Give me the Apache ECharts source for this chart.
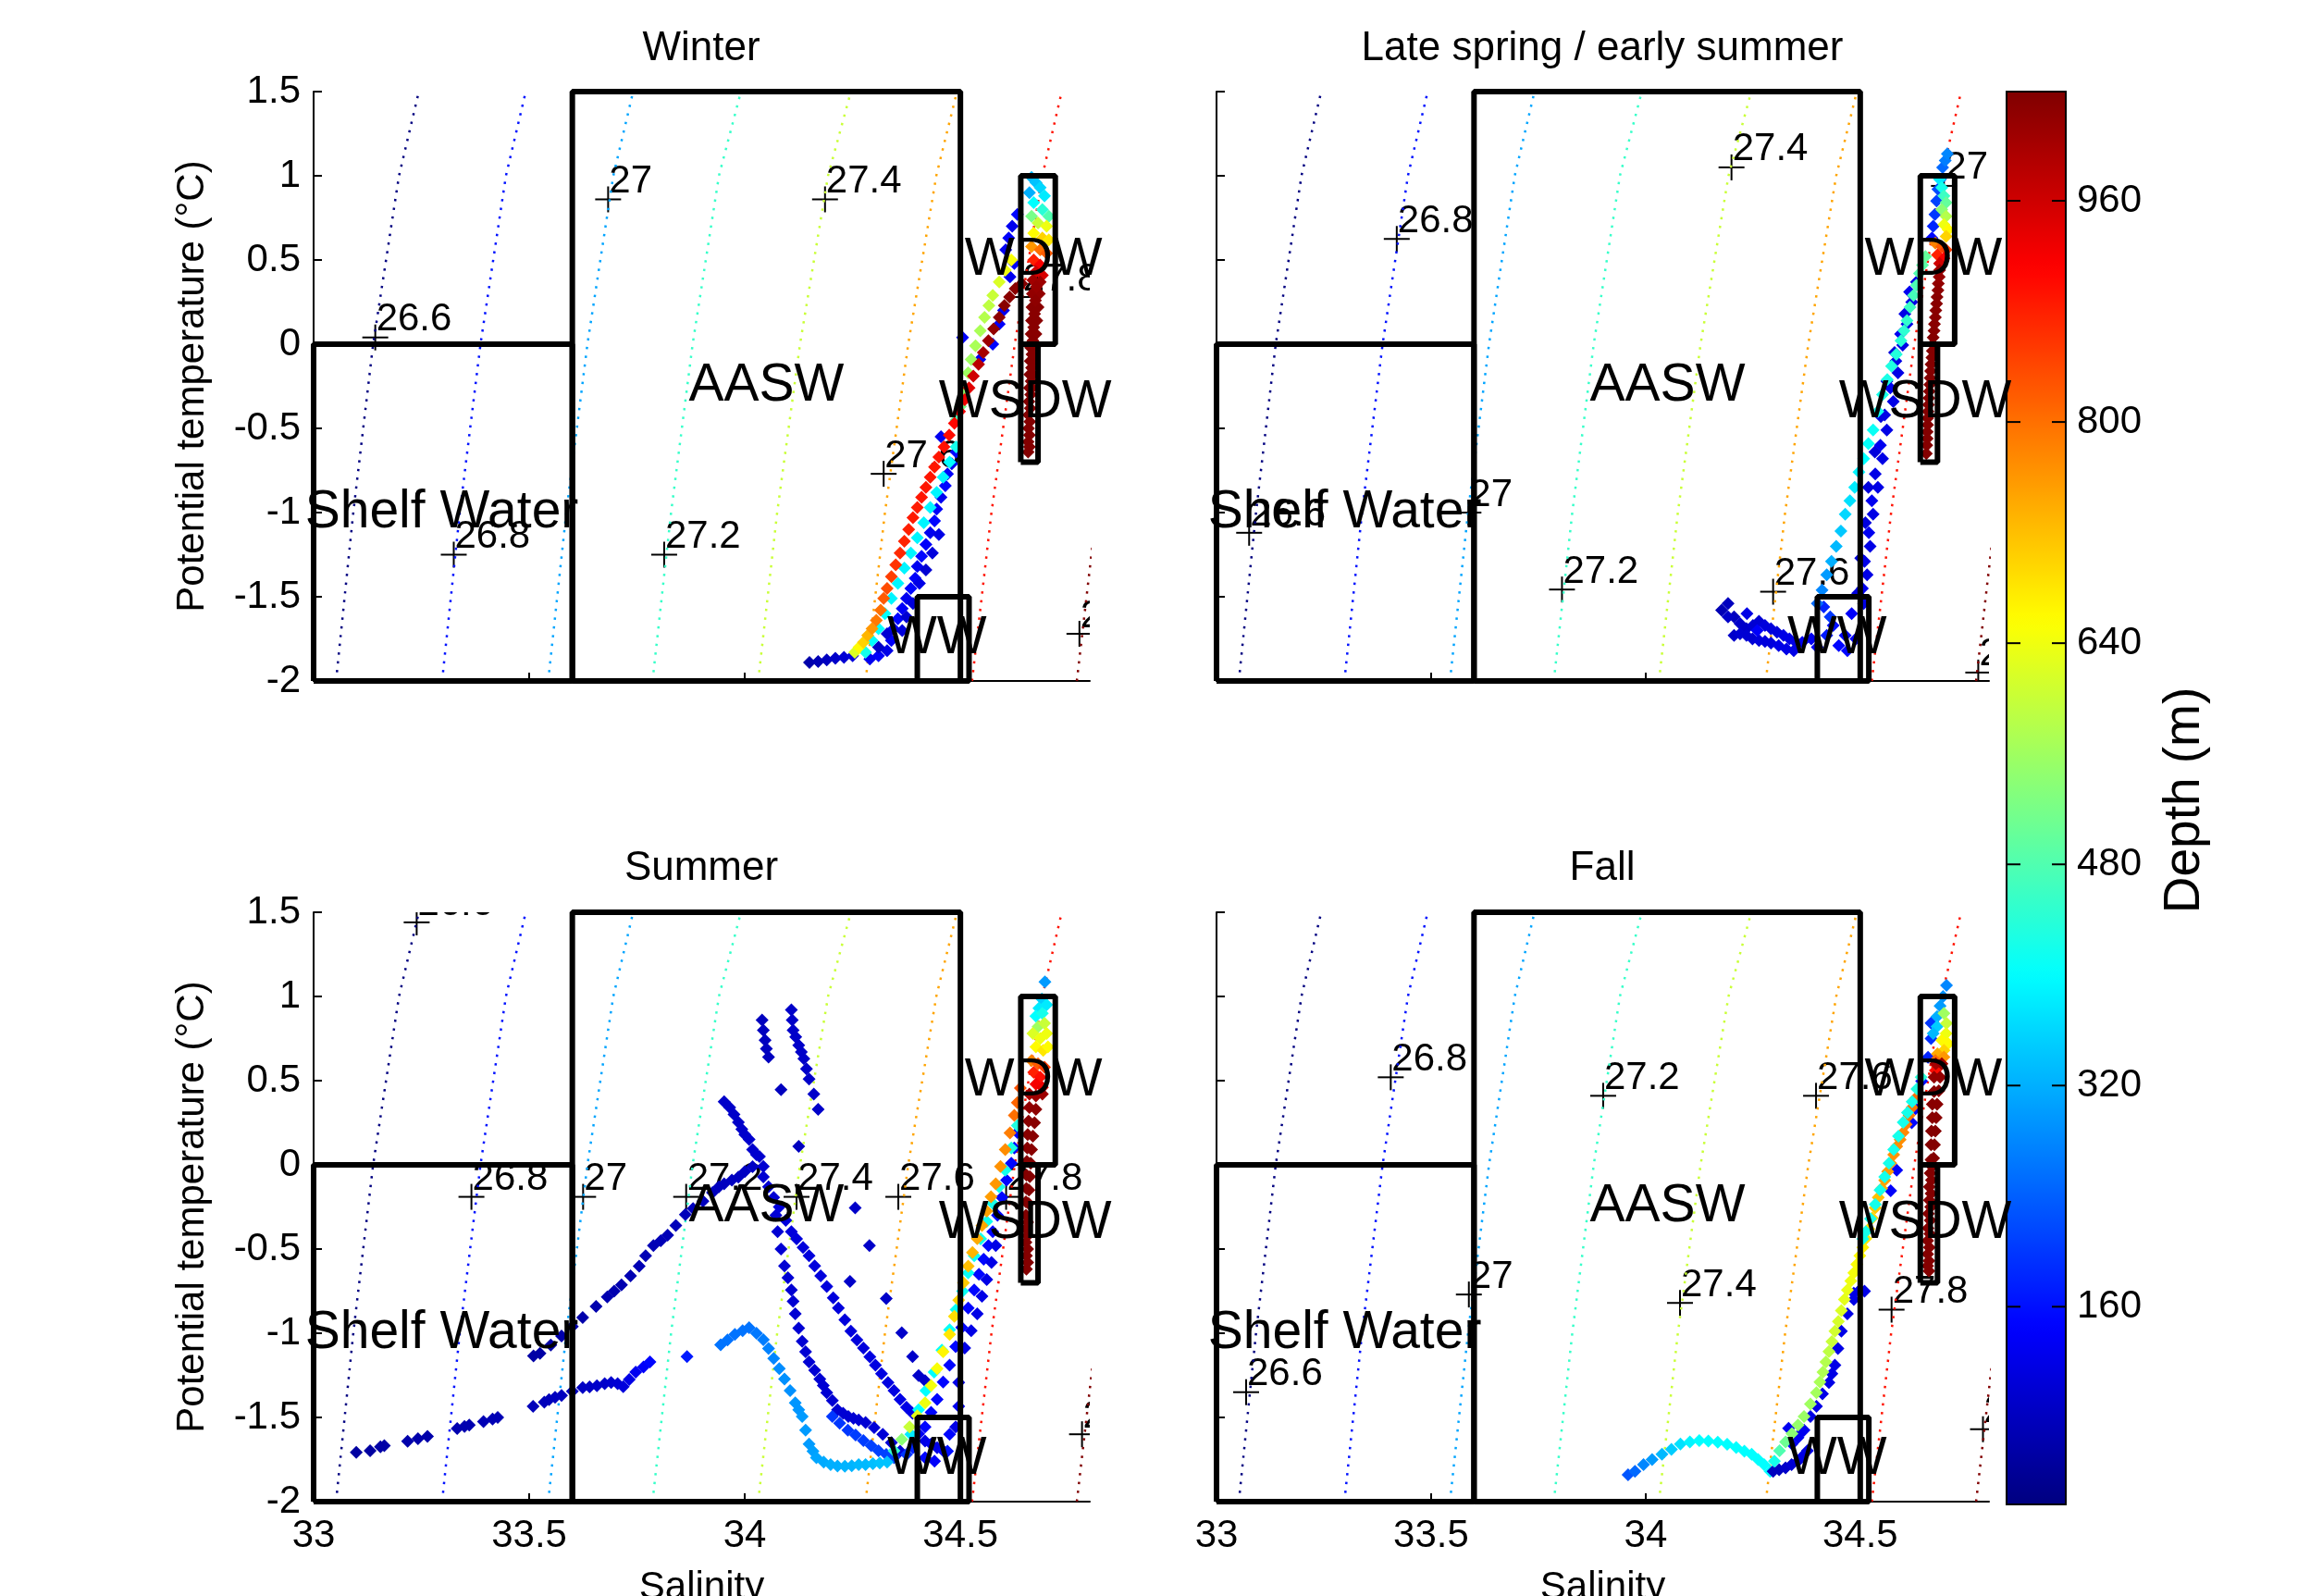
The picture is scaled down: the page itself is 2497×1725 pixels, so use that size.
<!DOCTYPE html>
<html>
<head>
<meta charset="utf-8">
<script src="https://cdn.jsdelivr.net/npm/echarts@6.0.0/dist/echarts.min.js"></script>
<style>
  html, body { margin: 0; padding: 0; background: #fff; }
  #chart { width: 2497px; height: 1725px; }
</style>
</head>
<body>
<div id="chart"></div>
<script>
// ---- data ----
const seasonTitles = ['Winter', 'Late spring / early summer', 'Summer', 'Fall'];
const salTicks = [33, 33.5, 34, 34.5];
const depthTicks = [160, 320, 480, 640, 800, 960];
const depthMin = 17;
const depthMax = 1039;

// isopycnals: salinity where each sigma-theta level crosses isoTheta
const sigmaText = ['26.6', '26.8', '27', '27.2', '27.4', '27.6', '27.8', '28'];
const isoTheta = [-2, -1, 0, 1, 1.5];
const isoSalinity = [
  [33.052, 33.092, 33.138, 33.198, 33.244],
  [33.298, 33.339, 33.387, 33.446, 33.492],
  [33.544, 33.586, 33.635, 33.695, 33.741],
  [33.786, 33.829, 33.879, 33.940, 33.991],
  [34.031, 34.075, 34.128, 34.193, 34.246],
  [34.280, 34.325, 34.379, 34.444, 34.492],
  [34.527, 34.572, 34.626, 34.690, 34.735],
  [34.770, 34.815, 34.870, 34.938, 34.985]
];

// clabel "+" positions, one per sigma level
const winterLabelPts = [[33.143,0.04],[33.325,-1.25],[33.683,0.86],[33.813,-1.25],[34.186,0.86],[34.322,-0.77],[34.643,0.28],[34.776,-1.72]];
const springLabelPts = [[33.076,-1.12],[33.42,0.625],[33.587,-1.0],[33.805,-1.457],[34.2,1.05],[34.297,-1.47],[34.695,0.94],[34.775,-1.95]];
const summerLabelPts = [[33.239,1.44],[33.366,-0.19],[33.625,-0.19],[33.864,-0.19],[34.12,-0.19],[34.356,-0.19],[34.606,-0.19],[34.782,-1.6]];
const fallLabelPts = [[33.069,-1.35],[33.406,0.52],[33.588,-0.77],[33.901,0.41],[34.08,-0.82],[34.397,0.41],[34.573,-0.86],[34.786,-1.57]];

// water mass boxes and names
const boxShelf = [[33,-2],[33,0],[33.6,0],[33.6,-2],[33,-2]];
const boxAASW = [[33.6,-2],[33.6,1.5],[34.5,1.5],[34.5,-2],[33.6,-2]];
const boxWDW = [[34.64,0],[34.64,1],[34.72,1],[34.72,0],[34.64,0]];
const boxWSDW = [[34.64,-0.7],[34.64,0],[34.68,0],[34.68,-0.7],[34.64,-0.7]];
const boxWW = [[34.4,-2],[34.4,-1.5],[34.52,-1.5],[34.52,-2],[34.4,-2]];
const massNames = ['AASW', 'WDW', 'WSDW', 'Shelf Water', 'WW'];
const massPos = [[33.87,-0.25],[34.51,0.5],[34.45,-0.35],[32.98,-1.0],[34.33,-1.75]];

// [salinity, potential temperature, depth]
const winterPts = [
  [34.15,-1.89,60],[34.17,-1.885,70],[34.19,-1.875,80],[34.21,-1.865,90],[34.23,-1.86,100],[34.25,-1.85,110],
  [34.29,-1.87,130],[34.31,-1.85,140],[34.33,-1.82,120],[34.34,-1.76,140],[34.345,-1.69,130],[34.355,-1.63,150],
  [34.365,-1.57,140],[34.375,-1.51,130],[34.385,-1.45,150],[34.395,-1.39,140],[34.40,-1.32,130],[34.41,-1.26,150],
  [34.42,-1.19,140],[34.43,-1.12,130],[34.44,-1.05,150],[34.445,-0.98,140],[34.455,-0.91,130],[34.465,-0.84,150],
  [34.47,-0.77,140],[34.48,-0.71,130],[34.49,-0.64,150],
  [34.365,-1.70,110],[34.375,-1.62,100],[34.39,-1.54,110],[34.405,-1.42,120],[34.42,-1.34,100],[34.435,-1.24,110],
  [34.45,-1.13,120],[34.31,-1.80,90],[34.33,-1.72,100],
  [34.455,-0.55,130],[34.505,0.04,140],[34.545,-0.09,130],[34.575,0.0,150],[34.59,0.12,140],[34.60,0.20,130],
  [34.605,0.56,130],[34.612,0.63,140],[34.62,0.70,130],[34.632,0.77,150],[34.625,0.48,140],[34.615,0.40,130],
  [34.28,-1.83,420],[34.295,-1.76,400],[34.31,-1.69,400],[34.325,-1.60,400],[34.34,-1.51,390],[34.355,-1.42,390],
  [34.37,-1.33,390],[34.385,-1.24,390],[34.40,-1.15,390],[34.415,-1.06,390],[34.43,-0.97,390],[34.445,-0.88,390],
  [34.46,-0.79,390],[34.475,-0.70,400],[34.49,-0.61,420],
  [34.49,-0.45,480],[34.50,-0.37,520],[34.51,-0.27,550],[34.518,-0.17,560],[34.525,-0.09,560],[34.535,-0.01,570],
  [34.546,0.08,570],[34.556,0.16,580],[34.566,0.23,590],[34.575,0.29,600],[34.59,0.37,620],[34.604,0.44,640],[34.618,0.50,650],
  [34.255,-1.83,620],[34.265,-1.80,660],[34.275,-1.77,700],[34.285,-1.73,730],[34.295,-1.69,760],[34.305,-1.64,790],
  [34.315,-1.58,800],[34.322,-1.51,820],[34.33,-1.45,835],[34.34,-1.38,850],[34.35,-1.31,860],[34.36,-1.24,870],
  [34.37,-1.17,875],[34.38,-1.10,880],[34.39,-1.03,885],[34.40,-0.97,885],[34.41,-0.91,890],[34.42,-0.85,890],
  [34.43,-0.79,890],[34.44,-0.73,890],[34.45,-0.67,890],[34.462,-0.61,895],[34.474,-0.54,900],[34.486,-0.47,905],
  [34.498,-0.40,915],[34.51,-0.33,925],[34.52,-0.26,940],[34.53,-0.19,960],[34.542,-0.12,980],[34.553,-0.05,1000],
  [34.565,0.02,1010],[34.577,0.09,1020],[34.59,0.16,1025],[34.602,0.23,1030],[34.614,0.28,1030],[34.627,0.33,1030],[34.642,0.36,1035],
  [34.665,0.99,330],[34.675,0.96,340],[34.685,0.93,360],[34.66,0.90,320],[34.695,0.88,380],[34.67,0.84,400],[34.69,0.80,440],[34.705,0.76,480],
  [34.665,0.76,520],[34.68,0.72,600],[34.70,0.70,640],[34.67,0.66,660],[34.69,0.63,700],[34.705,0.62,680],
  [34.665,0.58,760],[34.685,0.56,800],[34.70,0.54,820],[34.67,0.50,880],[34.685,0.47,920],[34.675,0.43,960],[34.69,0.41,950],
  [34.668,0.38,1005],[34.685,0.37,1010],[34.667,0.30,1020],[34.683,0.30,1020],[34.666,0.22,1030],[34.68,0.22,1030],
  [34.665,0.14,1030],[34.677,0.14,1030],[34.664,0.06,1030],[34.675,0.06,1030],[34.663,-0.02,1035],[34.672,-0.02,1035],
  [34.662,-0.10,1035],[34.67,-0.10,1035],[34.661,-0.18,1035],[34.668,-0.18,1035],[34.66,-0.26,1035],[34.666,-0.26,1035],
  [34.659,-0.34,1035],[34.658,-0.42,1035],[34.658,-0.50,1035],[34.657,-0.58,1035],[34.657,-0.64,1035],
  [34.676,0.34,1015],[34.674,0.26,1025],[34.672,0.18,1030],[34.67,0.10,1030],[34.668,0.02,1032],[34.666,-0.06,1035],
  [34.665,-0.14,1035],[34.664,-0.22,1035],[34.663,-0.30,1035],[34.662,-0.38,1035],[34.661,-0.46,1035],[34.66,-0.54,1035],[34.66,-0.61,1035]
];

const springPts = [
  [34.177,-1.58,70],[34.192,-1.54,80],[34.206,-1.62,80],[34.22,-1.66,90],[34.235,-1.69,90],[34.25,-1.67,100],
  [34.264,-1.645,100],[34.278,-1.67,110],[34.292,-1.69,110],[34.306,-1.71,110],[34.321,-1.73,120],[34.335,-1.75,120],
  [34.35,-1.77,120],[34.365,-1.77,130],[34.386,-1.75,130],[34.206,-1.73,90],[34.22,-1.72,100],[34.235,-1.73,100],
  [34.249,-1.75,100],[34.264,-1.76,110],[34.278,-1.765,110],[34.292,-1.775,110],[34.31,-1.79,120],[34.328,-1.81,120],
  [34.345,-1.82,120],[34.192,-1.62,90],[34.236,-1.60,120],[34.26,-1.70,140],
  [34.415,-1.56,180],[34.437,-1.67,160],[34.465,-1.73,150],[34.48,-1.60,140],[34.45,-1.79,150],[34.422,-1.73,170],
  [34.40,-1.80,140],[34.47,-1.82,150],[34.49,-1.75,140],[34.43,-1.62,200],
  [34.508,-1.54,120],[34.516,-1.37,120],[34.523,-1.20,120],[34.53,-1.01,120],[34.541,-0.85,120],[34.552,-0.68,120],
  [34.562,-0.51,120],[34.577,-0.34,120],[34.588,-0.17,120],[34.599,-0.005,120],[34.609,0.12,120],[34.62,0.25,120],[34.631,0.37,120],
  [34.494,-1.48,110],[34.501,-1.27,110],[34.512,-1.06,110],[34.519,-0.85,110],[34.534,-0.64,110],[34.548,-0.43,110],
  [34.562,-0.22,110],[34.58,-0.05,110],
  [34.505,-1.45,130],[34.51,-1.29,120],[34.52,-1.12,130],[34.527,-0.93,130],[34.535,-0.77,120],[34.547,-0.60,130],
  [34.557,-0.42,120],[34.57,-0.26,130],[34.583,-0.10,120],[34.594,0.06,130],[34.604,0.18,120],[34.615,0.31,130],
  [34.40,-1.54,250],[34.411,-1.46,280],[34.422,-1.37,300],[34.433,-1.29,320],[34.444,-1.20,330],[34.455,-1.11,345],
  [34.465,-1.01,360],[34.476,-0.93,370],[34.487,-0.85,380],[34.497,-0.76,390],[34.508,-0.68,400],[34.519,-0.59,405],
  [34.53,-0.51,410],[34.541,-0.40,415],[34.552,-0.30,420],[34.563,-0.21,425],[34.573,-0.13,430],[34.584,-0.06,435],
  [34.595,0.02,440],[34.602,0.08,445],[34.609,0.14,450],[34.616,0.22,460],[34.624,0.29,470],[34.631,0.35,475],
  [34.638,0.42,480],[34.645,0.47,490],[34.652,0.52,500],
  [34.667,0.63,150],[34.67,0.70,180],[34.674,0.77,200],[34.678,0.85,210],[34.681,0.92,220],[34.687,0.98,240],
  [34.692,1.05,250],[34.698,1.09,270],[34.703,1.13,280],
  [34.685,0.98,380],[34.69,0.93,420],[34.695,0.88,460],[34.70,0.84,500],[34.69,0.80,540],[34.70,0.76,580],
  [34.695,0.71,640],[34.705,0.68,660],[34.70,0.64,700],
  [34.675,0.60,780],[34.69,0.58,820],[34.70,0.56,850],[34.68,0.53,880],[34.695,0.51,920],[34.685,0.48,960],
  [34.685,0.44,1010],[34.682,0.36,1020],[34.679,0.28,1030],[34.676,0.20,1030],[34.673,0.12,1030],[34.67,0.04,1035],
  [34.668,-0.04,1035],[34.665,-0.12,1035],[34.663,-0.20,1035],[34.661,-0.28,1035],[34.659,-0.36,1035],[34.657,-0.44,1035],
  [34.656,-0.52,1035],[34.655,-0.60,1035],[34.654,-0.65,1035],
  [34.684,0.40,1015],[34.681,0.32,1025],[34.678,0.24,1030],[34.675,0.16,1030],[34.672,0.08,1032],[34.669,0.0,1035],
  [34.667,-0.08,1035],[34.664,-0.16,1035],[34.662,-0.24,1035],[34.66,-0.32,1035],[34.658,-0.40,1035],[34.657,-0.48,1035],[34.656,-0.56,1035]
];

const summerPts = [
  [33.099,-1.708,50],[33.131,-1.698,50],[33.155,-1.675,55],[33.164,-1.668,55],[33.218,-1.641,60],[33.242,-1.627,60],
  [33.264,-1.613,60],[33.333,-1.566,65],[33.35,-1.553,65],[33.361,-1.546,65],[33.394,-1.525,70],[33.415,-1.51,70],
  [33.427,-1.50,70],[33.509,-1.434,75],[33.535,-1.41,75],[33.546,-1.394,75],[33.56,-1.38,80],[33.575,-1.369,80],
  [33.60,-1.345,80],[33.624,-1.323,85],[33.64,-1.318,85],[33.657,-1.312,90],[33.675,-1.30,90],[33.69,-1.292,95],
  [33.705,-1.30,100],[33.718,-1.317,110],[33.732,-1.275,120],[33.747,-1.231,130],[33.765,-1.20,140],[33.78,-1.17,150],
  [33.866,-1.139,170],
  [33.51,-1.135,55],[33.525,-1.119,55],[33.55,-1.07,55],[33.575,-1.017,58],[33.60,-0.96,60],[33.624,-0.906,60],
  [33.655,-0.84,62],[33.681,-0.784,65],[33.697,-0.75,65],[33.714,-0.713,65],[33.735,-0.66,68],[33.755,-0.601,70],
  [33.77,-0.54,70],[33.788,-0.479,70],[33.805,-0.45,72],[33.821,-0.418,72],[33.84,-0.36,75],[33.862,-0.296,75],
  [33.88,-0.26,78],[33.903,-0.215,78],[33.925,-0.165,80],[33.94,-0.13,80],[33.952,-0.113,80],[33.97,-0.09,82],
  [33.985,-0.073,82],[34.0,-0.04,84],[34.018,-0.011,85],
  [34.04,0.86,80],[34.043,0.80,80],[34.047,0.74,80],[34.05,0.69,80],[34.055,0.64,80],
  [34.108,0.92,90],[34.11,0.86,90],[34.112,0.80,90],[34.118,0.76,90],[34.125,0.71,90],[34.131,0.67,90],
  [34.137,0.63,90],[34.143,0.57,90],[34.149,0.51,90],[34.16,0.42,90],[34.17,0.33,90],
  [34.084,0.446,80],[34.125,0.11,80],[34.256,-0.255,90],[34.289,-0.479,90],[34.244,-0.692,90],[34.328,-0.794,90],
  [34.364,-0.997,90],[34.389,-1.139,90],[34.403,-1.251,90],[34.418,-1.282,90],
  [33.952,0.375,90],[33.965,0.34,90],[33.975,0.30,90],[33.985,0.253,90],[33.993,0.212,92],[34.0,0.18,92],
  [34.01,0.151,95],[34.018,0.09,95],[34.027,0.06,95],[34.034,0.05,95],[34.043,-0.01,98],[34.043,-0.072,98],
  [34.055,-0.13,100],[34.067,-0.194,100],[34.072,-0.30,100],[34.076,-0.397,100],[34.084,-0.50,100],[34.092,-0.60,100],
  [34.10,-0.67,100],[34.108,-0.743,100],[34.112,-0.81,100],[34.117,-0.885,100],[34.125,-0.97,100],[34.133,-1.048,100],
  [34.141,-1.11,100],[34.149,-1.17,100],[34.162,-1.22,100],[34.174,-1.272,100],[34.182,-1.31,100],[34.19,-1.353,100],
  [34.203,-1.40,100],[34.215,-1.455,100],[34.228,-1.475,100],[34.24,-1.495,100],[34.252,-1.505,100],[34.264,-1.515,100],
  [34.28,-1.53,100],[34.30,-1.56,105],[34.32,-1.60,105],[34.34,-1.65,105],[34.36,-1.70,105],
  [34.08,-0.25,110],[34.095,-0.33,110],[34.108,-0.397,110],[34.12,-0.44,110],[34.135,-0.49,110],[34.149,-0.54,110],
  [34.162,-0.60,110],[34.176,-0.66,110],[34.19,-0.723,110],[34.205,-0.79,110],[34.217,-0.85,110],[34.232,-0.92,110],
  [34.246,-0.987,110],[34.26,-1.04,110],[34.275,-1.088,110],[34.29,-1.14,115],[34.303,-1.19,115],[34.317,-1.24,115],
  [34.332,-1.292,115],[34.346,-1.34,115],[34.36,-1.393,120],[34.375,-1.44,120],[34.389,-1.475,120],
  [34.203,-1.495,200],[34.22,-1.535,200],[34.239,-1.576,200],[34.257,-1.605,205],[34.275,-1.637,205],
  [34.293,-1.668,210],[34.31,-1.698,210],[34.328,-1.72,210],[34.346,-1.739,210],
  [33.944,-1.068,260],[33.96,-1.04,260],[33.977,-1.007,260],[33.995,-0.985,260],[34.01,-0.967,260],[34.027,-1.00,265],
  [34.043,-1.038,270],[34.055,-1.09,275],[34.067,-1.15,280],[34.08,-1.21,285],[34.092,-1.272,290],[34.105,-1.34,290],
  [34.117,-1.414,295],[34.125,-1.455,295],[34.133,-1.495,300],[34.141,-1.575,300],[34.149,-1.658,300],[34.158,-1.70,305],
  [34.166,-1.739,310],[34.183,-1.765,315],[34.199,-1.78,320],[34.215,-1.788,320],[34.232,-1.79,325],[34.248,-1.787,325],
  [34.264,-1.78,330],[34.28,-1.78,330],[34.297,-1.775,335],[34.313,-1.77,340],[34.33,-1.765,340],
  [34.403,-1.597,130],[34.418,-1.64,120],[34.432,-1.658,130],[34.446,-1.68,120],[34.46,-1.698,140],[34.418,-1.739,150],
  [34.44,-1.76,140],[34.489,-1.556,120],[34.496,-1.434,130],[34.496,-1.292,120],[34.475,-1.60,150],[34.47,-1.70,160],
  [34.39,-1.68,180],[34.375,-1.72,200],
  [34.418,-1.556,150],[34.432,-1.47,150],[34.446,-1.393,150],[34.46,-1.29,150],[34.475,-1.19,150],[34.489,-1.08,150],
  [34.503,-0.966,150],[34.518,-0.85,150],[34.532,-0.743,150],[34.543,-0.65,150],[34.554,-0.56,150],[34.565,-0.48,150],
  [34.575,-0.397,150],[34.586,-0.30,150],[34.596,-0.194,150],[34.607,-0.09,150],[34.618,0.009,150],[34.625,0.10,150],[34.632,0.192,150],
  [34.51,-1.088,120],[34.525,-0.985,120],[34.539,-0.885,120],[34.55,-0.78,120],[34.561,-0.682,120],[34.572,-0.58,120],[34.582,-0.479,120],
  [34.385,-1.60,380],[34.403,-1.455,400],[34.42,-1.34,400],[34.439,-1.231,400],[34.457,-1.10,405],[34.475,-0.98,405],
  [34.49,-0.86,410],[34.505,-0.75,410],[34.518,-0.641,410],[34.532,-0.54,410],[34.547,-0.44,415],[34.561,-0.336,415],
  [34.575,-0.23,420],[34.59,-0.13,420],[34.604,-0.031,420],[34.618,0.10,425],[34.632,0.233,430],
  [34.346,-1.698,450],[34.364,-1.63,540],[34.382,-1.556,600],[34.40,-1.49,630],[34.418,-1.414,640],[34.432,-1.31,645],
  [34.446,-1.21,650],[34.46,-1.11,665],[34.475,-1.007,680],[34.486,-0.90,690],[34.496,-0.804,700],[34.507,-0.70,710],
  [34.518,-0.601,720],[34.528,-0.52,730],[34.539,-0.438,740],[34.55,-0.36,745],[34.561,-0.275,750],[34.571,-0.19,755],
  [34.582,-0.113,760],[34.593,-0.01,765],[34.604,0.09,770],[34.615,0.19,785],[34.625,0.294,800],[34.632,0.37,810],[34.639,0.456,830],
  [34.696,1.086,300],[34.689,0.985,350],[34.682,0.93,380],[34.675,0.883,400],[34.69,0.90,420],[34.70,0.95,380],
  [34.68,0.82,560],[34.695,0.84,600],[34.668,0.78,620],[34.685,0.75,640],[34.70,0.78,640],[34.675,0.70,660],
  [34.692,0.68,680],[34.703,0.70,660],
  [34.665,0.62,780],[34.68,0.60,820],[34.695,0.58,850],[34.67,0.55,880],[34.685,0.52,900],[34.675,0.48,920],[34.69,0.46,930],
  [34.66,0.42,1000],[34.675,0.41,1010],[34.69,0.42,1010],[34.66,0.34,1020],[34.675,0.33,1025],[34.658,0.26,1030],
  [34.672,0.25,1030],[34.656,0.18,1030],[34.668,0.17,1030],[34.655,0.10,1030],[34.665,0.09,1030],[34.654,0.02,1035],
  [34.663,0.01,1035],[34.653,-0.06,1035],[34.661,-0.07,1035],[34.653,-0.14,1035],[34.659,-0.15,1035],[34.652,-0.22,1035],
  [34.658,-0.23,1035],[34.652,-0.30,1035],[34.652,-0.38,1035],[34.652,-0.46,1035],[34.653,-0.54,1035],[34.653,-0.62,1035],
  [34.656,-0.34,1035],[34.656,-0.42,1035],[34.656,-0.50,1035],[34.656,-0.58,1035]
];

const fallPts = [
  [33.959,-1.84,230],[33.975,-1.82,250],[33.995,-1.78,280],[34.015,-1.75,300],[34.038,-1.719,330],[34.06,-1.69,350],
  [34.081,-1.658,370],[34.103,-1.645,390],[34.125,-1.637,400],[34.146,-1.64,400],[34.168,-1.647,400],[34.19,-1.66,400],
  [34.211,-1.678,400],[34.23,-1.70,400],[34.247,-1.719,400],[34.262,-1.75,400],[34.276,-1.78,400],[34.29,-1.82,400],
  [34.297,-1.82,80],[34.311,-1.81,80],[34.326,-1.80,90],[34.34,-1.78,100],[34.355,-1.76,110],[34.366,-1.73,120],
  [34.377,-1.698,120],[34.341,-1.658,130],[34.355,-1.62,130],[34.369,-1.576,130],[34.333,-1.565,130],[34.362,-1.59,130],
  [34.384,-1.495,120],[34.398,-1.434,120],[34.412,-1.36,120],[34.427,-1.292,120],[34.434,-1.24,120],[34.441,-1.19,120],
  [34.448,-1.09,120],[34.456,-0.987,120],[34.47,-0.885,120],[34.485,-0.763,120],[34.499,-0.743,120],[34.51,-0.75,120],[34.485,-0.80,120],
  [34.571,-0.154,140],[34.585,-0.031,140],[34.62,0.25,150],[34.629,0.334,150],[34.643,0.497,160],[34.658,0.639,180],
  [34.665,0.75,190],[34.665,0.842,200],
  [34.30,-1.76,420],[34.312,-1.698,480],[34.326,-1.645,510],[34.341,-1.596,540],[34.355,-1.545,550],[34.369,-1.495,555],
  [34.384,-1.42,560],[34.398,-1.353,565],[34.406,-1.29,570],[34.413,-1.231,575],[34.42,-1.17,580],[34.427,-1.109,590],
  [34.434,-1.05,600],[34.441,-0.987,610],[34.449,-0.93,615],[34.456,-0.865,620],[34.463,-0.80,630],[34.47,-0.743,635],
  [34.478,-0.69,640],[34.485,-0.641,645],[34.492,-0.59,650],[34.499,-0.54,660],[34.506,-0.49,670],[34.513,-0.438,680],
  [34.52,-0.38,690],[34.528,-0.316,700],[34.535,-0.255,710],[34.542,-0.194,720],[34.55,-0.14,735],[34.557,-0.092,750],
  [34.564,-0.04,755],[34.571,0.009,760],[34.578,0.06,765],[34.585,0.11,770],[34.593,0.15,770],[34.6,0.192,775],
  [34.607,0.24,780],[34.614,0.294,790],[34.621,0.34,795],[34.629,0.395,800],
  [34.506,-0.44,420],[34.513,-0.397,420],[34.524,-0.32,420],[34.535,-0.235,420],[34.546,-0.15,420],[34.557,-0.072,420],
  [34.567,0.01,420],[34.578,0.09,420],[34.589,0.17,420],[34.6,0.253,420],[34.61,0.31,420],[34.621,0.375,420],
  [34.632,0.45,430],[34.642,0.52,440],
  [34.701,1.066,280],[34.693,1.00,290],[34.686,0.944,300],[34.679,0.88,320],[34.679,0.822,350],[34.67,0.78,330],
  [34.695,0.90,560],[34.701,0.84,600],[34.70,0.78,640],[34.69,0.74,660],[34.705,0.72,660],[34.695,0.68,700],
  [34.68,0.66,740],[34.695,0.64,760],[34.675,0.62,800],[34.69,0.60,830],[34.68,0.58,860],[34.675,0.56,900],
  [34.676,0.60,1000],[34.69,0.60,1010],[34.672,0.52,1020],[34.686,0.52,1020],[34.672,0.436,1030],[34.683,0.44,1030],
  [34.668,0.36,1030],[34.679,0.36,1030],[34.668,0.28,1030],[34.677,0.28,1030],[34.666,0.20,1035],[34.675,0.20,1035],
  [34.665,0.12,1035],[34.673,0.12,1035],[34.665,0.03,1035],[34.671,0.04,1035],[34.663,-0.05,1035],[34.661,-0.13,1035],
  [34.661,-0.21,1035],[34.659,-0.29,1035],[34.658,-0.377,1035],[34.657,-0.45,1035],[34.657,-0.53,1035],[34.657,-0.60,1035],
  [34.667,-0.01,1035],[34.666,-0.09,1035],[34.665,-0.17,1035],[34.664,-0.25,1035],[34.663,-0.33,1035],[34.662,-0.41,1035],
  [34.661,-0.49,1035],[34.66,-0.57,1035],[34.66,-0.63,1035]
];

const seasonPoints = [winterPts, springPts, summerPts, fallPts];
const seasonLabelPts = [winterLabelPts, springLabelPts, summerLabelPts, fallLabelPts];
const boxes = [boxShelf, boxAASW, boxWDW, boxWSDW, boxWW];

// ---- styling ----
const FONT = '"Liberation Sans", Arial, sans-serif';
const jet = ['#000080', '#0000ff', '#0080ff', '#00ffff', '#80ff80', '#ffff00', '#ff8000', '#ff0000', '#800000'];
const contourColors = ['#000080', '#0012ff', '#00a4ff', '#37ffc9', '#c9ff37', '#ffa400', '#ff1200', '#800000'];
const panels = [
  { left: 339, top: 99, width: 839, height: 637 },
  { left: 1315, top: 99, width: 835, height: 637 },
  { left: 339, top: 986, width: 839, height: 637 },
  { left: 1315, top: 986, width: 835, height: 637 }
];
const black = { color: '#000', width: 2 };

const chart = echarts.init(document.getElementById('chart'));

const grid = panels.map(p => ({ ...p, containLabel: false, outerBoundsMode: 'none' }));
grid.push({ left: 2169, top: 99, width: 64, height: 1527, show: true, borderColor: '#000', borderWidth: 2, z: 10, outerBoundsMode: 'none' });

const xAxis = panels.map((p, i) => ({
  gridIndex: i, type: 'value', min: 33, max: 34.8,
  axisLine: { show: true, onZero: false, lineStyle: black },
  axisTick: { show: true, inside: true, length: 9, lineStyle: black, customValues: salTicks },
  axisLabel: { show: i >= 2, customValues: salTicks, color: '#000', fontSize: 42, fontFamily: FONT, margin: 16 },
  splitLine: { show: false },
  name: i >= 2 ? 'Salinity' : '', nameLocation: 'middle', nameGap: 72,
  nameTextStyle: { color: '#000', fontSize: 42, fontFamily: FONT }
}));
xAxis.push({ gridIndex: 4, type: 'value', min: 0, max: 1, show: false });

const yAxis = panels.map((p, i) => ({
  gridIndex: i, type: 'value', min: -2, max: 1.5, interval: 0.5,
  axisLine: { show: true, onZero: false, lineStyle: black },
  axisTick: { show: true, inside: true, length: 9, lineStyle: black },
  axisLabel: { show: i % 2 === 0, color: '#000', fontSize: 42, fontFamily: FONT, margin: 14 },
  splitLine: { show: false },
  name: i % 2 === 0 ? 'Potential temperature (°C)' : '', nameLocation: 'middle', nameGap: 110, nameRotate: 90,
  nameTextStyle: { color: '#000', fontSize: 42, fontFamily: FONT }
}));
yAxis.push({
  gridIndex: 4, type: 'value', min: depthMin, max: depthMax, position: 'right', z: 10,
  axisLine: { show: false },
  axisTick: { show: false },
  axisLabel: { show: true, customValues: depthTicks, color: '#000', fontSize: 42, fontFamily: FONT, margin: 12 },
  splitLine: { show: false }
});

const series = [];
const scatterIdx = [];
panels.forEach((p, i) => {
  // isopycnals
  isoSalinity.forEach((row, k) => {
    series.push({
      type: 'line', xAxisIndex: i, yAxisIndex: i, z: 1, silent: true, symbol: 'none', clip: true,
      data: isoTheta.map((t, j) => [row[j], t]),
      lineStyle: { color: contourColors[k], width: 2.5, type: [2.5, 7] }
    });
  });
  // clabel markers
  series.push({
    type: 'custom', xAxisIndex: i, yAxisIndex: i, z: 1, silent: true, clip: true,
    data: seasonLabelPts[i],
    renderItem: (params, api) => {
      const c = api.coord([api.value(0), api.value(1)]);
      return {
        type: 'group', children: [
          { type: 'line', shape: { x1: c[0] - 14, y1: c[1], x2: c[0] + 14, y2: c[1] }, style: { stroke: '#000', lineWidth: 2 } },
          { type: 'line', shape: { x1: c[0], y1: c[1] - 14, x2: c[0], y2: c[1] + 14 }, style: { stroke: '#000', lineWidth: 2 } },
          { type: 'text', x: c[0] + 1, y: c[1] + 2, style: { text: sigmaText[params.dataIndex], font: '42px ' + FONT, fill: '#000', align: 'left', verticalAlign: 'bottom' } }
        ]
      };
    }
  });
  // profiles coloured by depth
  scatterIdx.push(series.length);
  series.push({
    type: 'scatter', xAxisIndex: i, yAxisIndex: i, z: 2, silent: true,
    symbol: 'diamond', symbolSize: 14, data: seasonPoints[i], itemStyle: { opacity: 1 }
  });
  // water mass boxes
  boxes.forEach(b => {
    series.push({
      type: 'line', xAxisIndex: i, yAxisIndex: i, z: 3, silent: true, symbol: 'none', clip: true,
      data: b, lineStyle: { color: '#000', width: 6 }
    });
  });
  // water mass names
  series.push({
    type: 'custom', xAxisIndex: i, yAxisIndex: i, z: 4, silent: true, clip: false,
    data: massPos,
    renderItem: (params, api) => {
      const c = api.coord([api.value(0), api.value(1)]);
      return { type: 'text', x: c[0], y: c[1], style: { text: massNames[params.dataIndex], font: '57px ' + FONT, fill: '#000', align: 'left', verticalAlign: 'middle' } };
    }
  });
});

// colorbar tick marks, inside both edges
series.push({
  type: 'custom', xAxisIndex: 4, yAxisIndex: 4, z: 10, silent: true,
  data: depthTicks.map(d => [0, d]),
  renderItem: (params, api) => {
    const l = api.coord([0, api.value(1)]);
    const r = api.coord([1, api.value(1)]);
    return {
      type: 'group', children: [
        { type: 'line', shape: { x1: l[0], y1: l[1], x2: l[0] + 15, y2: l[1] }, style: { stroke: '#000', lineWidth: 2 } },
        { type: 'line', shape: { x1: r[0] - 15, y1: r[1], x2: r[0], y2: r[1] }, style: { stroke: '#000', lineWidth: 2 } }
      ]
    };
  }
});

const titleCentres = [[758, 53], [1732, 53], [758, 939], [1732, 939]];
const graphic = seasonTitles.map((t, i) => ({
  type: 'text', x: titleCentres[i][0], y: titleCentres[i][1],
  style: { text: t, font: '44px ' + FONT, fill: '#000', align: 'center', verticalAlign: 'middle' }
}));
graphic.push({
  type: 'text', x: 2362, y: 865, rotation: Math.PI / 2,
  style: { text: 'Depth (m)', font: '55px ' + FONT, fill: '#000', align: 'center', verticalAlign: 'middle' }
});

chart.setOption({
  animation: false,
  backgroundColor: '#fff',
  grid, xAxis, yAxis, series, graphic,
  visualMap: {
    type: 'continuous', min: depthMin, max: depthMax, dimension: 2, seriesIndex: scatterIdx,
    inRange: { color: jet }, left: 2169, top: 99, itemWidth: 64, itemHeight: 1527,
    calculable: false, padding: 0, orient: 'vertical', hoverLink: false, z: 3
  }
});
</script>
</body>
</html>
